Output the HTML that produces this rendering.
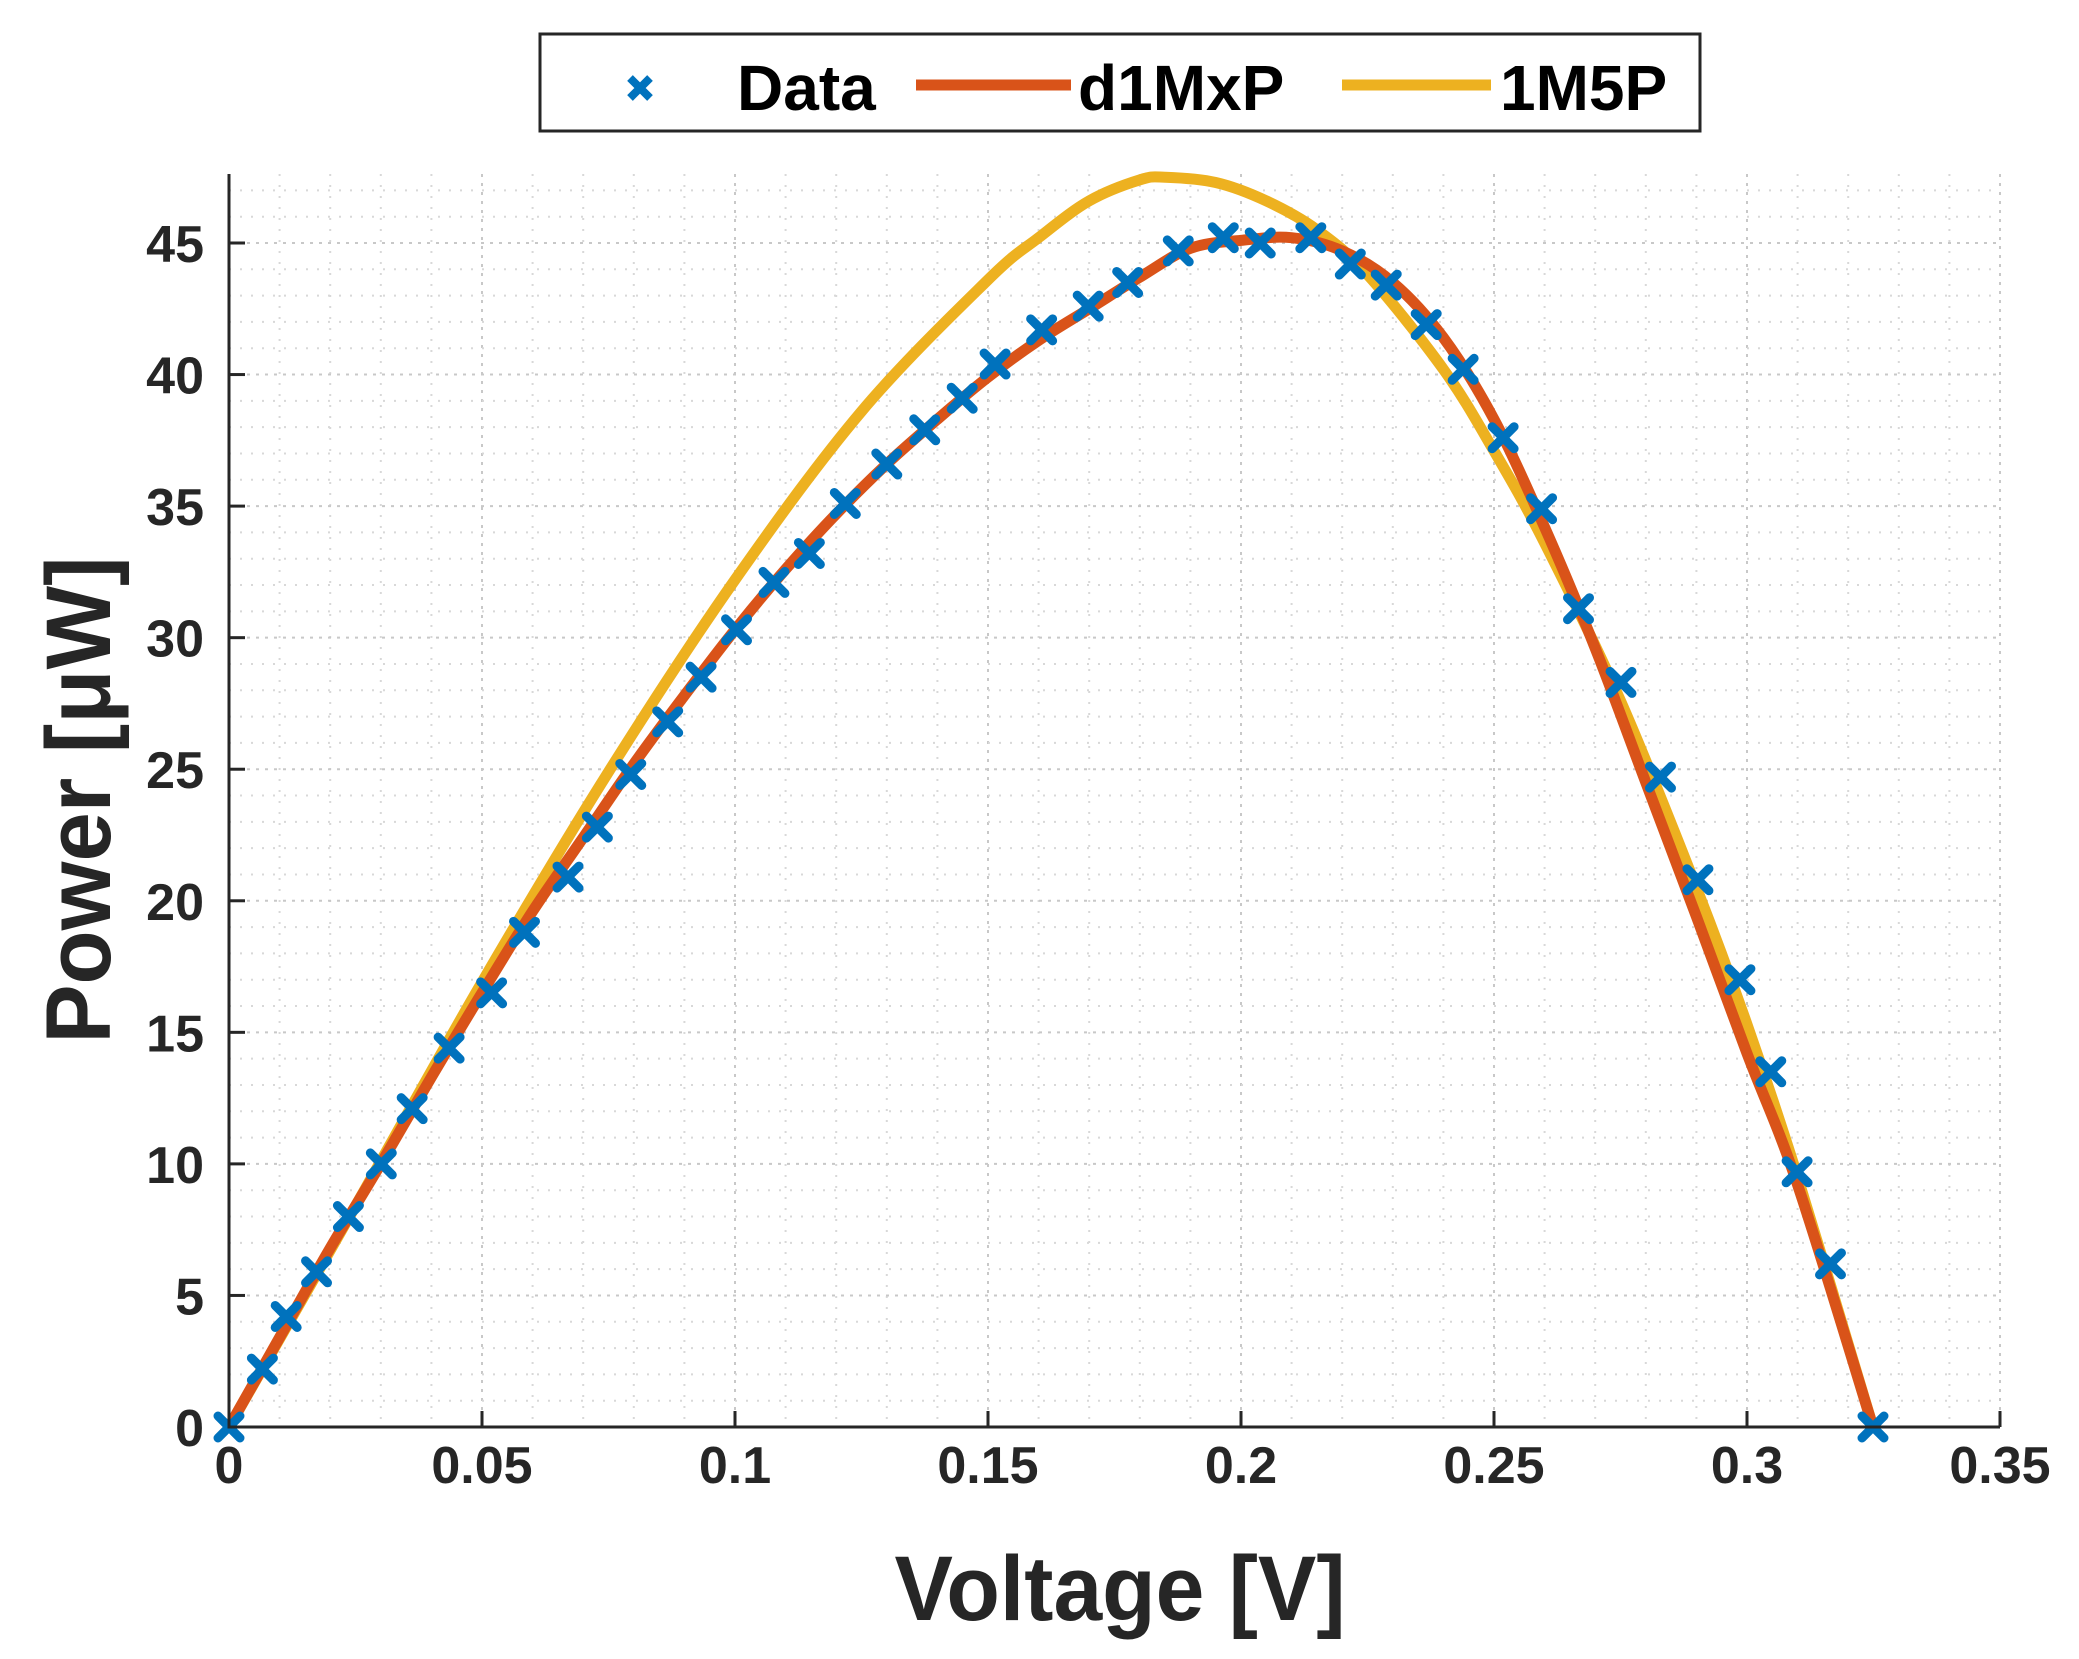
<!DOCTYPE html>
<html><head><meta charset="utf-8"><style>
html,body{margin:0;padding:0;background:#fff;}
svg{display:block;font-family:"Liberation Sans",sans-serif;}
</style></head><body>
<svg id="chart" width="2079" height="1659" viewBox="0 0 2079 1659" xmlns="http://www.w3.org/2000/svg">
<g id="grid"></g>
<g id="series"></g>
<g id="axes"></g>
<text x="1120" y="1620" text-anchor="middle" font-size="92" font-weight="bold" fill="#262626" textLength="451" lengthAdjust="spacingAndGlyphs">Voltage [V]</text>
<text transform="translate(110,800) rotate(-90)" text-anchor="middle" font-size="92" font-weight="bold" fill="#262626" textLength="487" lengthAdjust="spacingAndGlyphs">Power [μW]</text>
<g>
<rect x="540" y="34" width="1160" height="97" fill="#fff" stroke="#262626" stroke-width="3"/>
<g>
<path d="M630 78 L650 98 M650 78 L630 98" stroke="#0072BD" stroke-width="8"/>
<text x="737" y="110" font-size="64" font-weight="bold" fill="#000">Data</text></g>
<g>
<line x1="916" y1="85" x2="1071" y2="85" stroke="#D95319" stroke-width="11"/>
<text x="1078" y="110" font-size="64" font-weight="bold" fill="#000">d1MxP</text></g>
<g>
<line x1="1342" y1="85" x2="1491" y2="85" stroke="#EDB120" stroke-width="11"/>
<text x="1500" y="110" font-size="64" font-weight="bold" fill="#000">1M5P</text></g>
</g>
</svg>
<script>
const dataV = [0,0.0066,0.0113,0.0173,0.0236,0.0301,0.0362,0.0435,0.0519,0.0584,0.067,0.0728,0.0794,0.0867,0.0933,0.1003,0.1077,0.1147,0.1218,0.13,0.1375,0.1449,0.1514,0.1606,0.1698,0.1776,0.1876,0.1965,0.2038,0.2138,0.2216,0.2287,0.2366,0.2439,0.2518,0.2594,0.2667,0.2751,0.2829,0.2903,0.2986,0.3047,0.3099,0.3165,0.3249];
const dataP = [0,2.2,4.2,5.9,8.0,10.0,12.1,14.4,16.5,18.8,20.9,22.8,24.8,26.8,28.5,30.3,32.1,33.2,35.1,36.6,37.9,39.1,40.4,41.7,42.6,43.5,44.7,45.2,45.0,45.2,44.2,43.4,41.9,40.2,37.6,34.9,31.1,28.3,24.7,20.8,17.0,13.5,9.7,6.2,0];
const fitV = [0,0.01,0.02,0.03,0.04,0.05,0.06,0.07,0.08,0.09,0.1,0.11,0.12,0.13,0.14,0.15,0.16,0.17,0.18,0.19,0.2,0.21,0.22,0.23,0.24,0.25,0.26,0.27,0.28,0.29,0.3,0.31,0.3249];
const fitP = [0,3.4,6.8,10.0,13.3,16.5,19.6,22.4,25.2,27.8,30.3,32.6,34.7,36.6,38.3,39.9,41.3,42.5,43.7,44.8,45.1,45.2,44.7,43.5,41.4,38.3,34.2,29.6,24.5,19.4,14.2,9.2,0];
const m5V = [0,0.025,0.05,0.075,0.1,0.125,0.15,0.16,0.17,0.18,0.185,0.195,0.205,0.215,0.225,0.24,0.25,0.26,0.275,0.29,0.3,0.31,0.3249];
const m5P = [0,8.4,16.9,24.9,32.2,38.6,43.6,45.2,46.6,47.4,47.5,47.3,46.6,45.5,43.8,40.2,37.1,33.6,27.6,20.5,15.3,9.5,0];
const xTicks = [0,0.05,0.1,0.15,0.2,0.25,0.3,0.35];
const xTickLabels = ["0","0.05","0.1","0.15","0.2","0.25","0.3","0.35"];
const yTicks = [0,5,10,15,20,25,30,35,40,45];
const yTickLabels = ["0","5","10","15","20","25","30","35","40","45"];

const X0=229, X1=2000, Y0=1427, Y45=243, YTOP=174;
function sx(v){return X0+(v/0.35)*(X1-X0);}
function sy(p){return Y0-(p/45)*(Y0-Y45);}
const NS="http://www.w3.org/2000/svg";
function mk(tag,parent,attrs){const e=document.createElementNS(NS,tag);for(const k in attrs)e.setAttribute(k,attrs[k]);parent.appendChild(e);return e;}
const grid=document.getElementById('grid'), series=document.getElementById('series'), axes=document.getElementById('axes');
for(let i=1;i<=35;i++){const x=sx(i*0.01);
 const l=mk('line',grid,{x1:x,y1:YTOP,x2:x,y2:Y0,stroke:i%5===0?'#c8c8c8':'#d8d8d8','stroke-width':2,'stroke-dasharray':i%5===0?'3 6':'2 9'});
 
 }
for(let p=1;p<=47;p++){const y=sy(p);
 const l=mk('line',grid,{x1:X0,y1:y,x2:X1,y2:y,stroke:p%5===0?'#c8c8c8':'#d8d8d8','stroke-width':2,'stroke-dasharray':p%5===0?'3 6':'2 9'});
 
 }
function path(vs,ps,color,name){
 const pts=vs.map((v,i)=>[sx(v),sy(ps[i])]);
 let d='M'+pts[0][0].toFixed(1)+' '+pts[0][1].toFixed(1);
 for(let i=0;i<pts.length-1;i++){
  const p0=pts[Math.max(0,i-1)],p1=pts[i],p2=pts[i+1],p3=pts[Math.min(pts.length-1,i+2)];
  const c1=[p1[0]+(p2[0]-p0[0])/6,p1[1]+(p2[1]-p0[1])/6];
  const c2=[p2[0]-(p3[0]-p1[0])/6,p2[1]-(p3[1]-p1[1])/6];
  d+=`C${c1[0].toFixed(1)} ${c1[1].toFixed(1)} ${c2[0].toFixed(1)} ${c2[1].toFixed(1)} ${p2[0].toFixed(1)} ${p2[1].toFixed(1)}`;
 }
 const e=mk('path',series,{d:d,fill:'none',stroke:color,'stroke-width':11,'stroke-linejoin':'round','stroke-linecap':'round'});
 
 }
path(m5V,m5P,'#EDB120','line-1m5p');
path(fitV,fitP,'#D95319','line-d1mxp');
for(let i=0;i<dataV.length;i++){const x=sx(dataV[i]),y=sy(dataP[i]),s=11;
 const e=mk('path',series,{d:`M${x-s} ${y-s}L${x+s} ${y+s}M${x+s} ${y-s}L${x-s} ${y+s}`,stroke:'#0072BD','stroke-width':9,'stroke-linecap':'round'});
 
 }
const ax=mk('path',axes,{d:`M${X0} ${YTOP}L${X0} ${Y0}L${X1} ${Y0}`,fill:'none',stroke:'#262626','stroke-width':3});


xTicks.forEach((v,i)=>{const x=sx(v);
 const t=mk('line',axes,{x1:x,y1:Y0,x2:x,y2:Y0-16,stroke:'#262626','stroke-width':3});
 
 
 const l=mk('text',axes,{x:x,y:1483,'text-anchor':'middle','font-size':52,'font-weight':'bold',fill:'#262626'});
 l.textContent=xTickLabels[i];
 
 });
yTicks.forEach((p,i)=>{const y=sy(p);
 const t=mk('line',axes,{x1:X0,y1:y,x2:X0+16,y2:y,stroke:'#262626','stroke-width':3});
 
 
 const l=mk('text',axes,{x:204,y:y+19,'text-anchor':'end','font-size':52,'font-weight':'bold',fill:'#262626'});
 l.textContent=yTickLabels[i];
 
 });
</script>
</body></html>
